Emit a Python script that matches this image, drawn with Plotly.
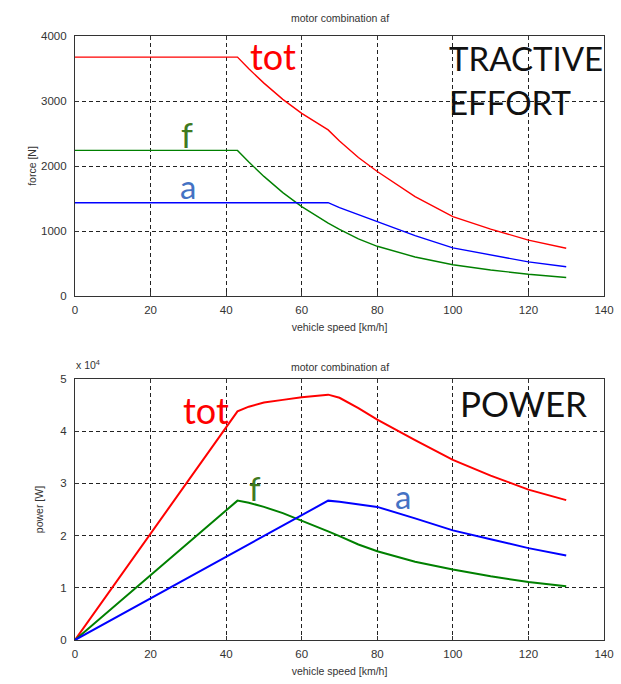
import plotly.graph_objects as go

# ---------------- data ----------------
speed = [0, 43, 46, 50, 55, 60, 67, 70, 75, 80, 90, 100, 110, 120, 130]

force_tot = [3675, 3675, 3495, 3275, 3025, 2810, 2555, 2385, 2130, 1915, 1530, 1220, 1030, 860, 735]
force_f = [2240, 2240, 2060, 1840, 1590, 1375, 1120, 1025, 880, 765, 600, 480, 400, 335, 285]
force_a = [1435, 1435, 1435, 1435, 1435, 1435, 1435, 1360, 1250, 1150, 930, 740, 630, 525, 450]

power_tot = [0, 43800, 44700, 45500, 46000, 46500, 47000, 46400, 44400, 42200, 38300, 34500, 31500, 28800, 26800]
power_f = [0, 26700, 26300, 25500, 24300, 22900, 20800, 19900, 18300, 17000, 15000, 13500, 12200, 11100, 10300]
power_a = [0, 17100, 18300, 19900, 21900, 23900, 26700, 26500, 26000, 25500, 23300, 21000, 19300, 17600, 16200]

x_ticks = [0, 20, 40, 60, 80, 100, 120, 140]
force_ticks = [0, 1000, 2000, 3000, 4000]
power_ticks = [0, 10000, 20000, 30000, 40000, 50000]
power_tick_text = ["0", "1", "2", "3", "4", "5"]

title_text = "motor combination af"
x_title = "vehicle speed [km/h]"

# ---------------- styling ----------------
W, H = 621, 684
RED, GREEN, BLUE = "#ff0000", "#008000", "#0000ff"
TICKFONT = dict(family="Liberation Sans, Arial", size=11.5, color="#333333")
SMALLFONT = dict(family="Liberation Sans, Arial", size=10.5, color="#333333")
BIG = "Lato, Open Sans, sans-serif"

def px_x(p):
    return p / W

def px_y(p):
    return 1 - p / H

fig = go.Figure()

for ys, c in [(force_tot, RED), (force_f, GREEN), (force_a, BLUE)]:
    fig.add_trace(go.Scatter(x=speed, y=ys, mode="lines", line=dict(color=c, width=1.4),
                             xaxis="x", yaxis="y", showlegend=False, hoverinfo="skip"))

for ys, c in [(power_tot, RED), (power_f, GREEN), (power_a, BLUE)]:
    fig.add_trace(go.Scatter(x=speed, y=ys, mode="lines", line=dict(color=c, width=2),
                             xaxis="x2", yaxis="y2", showlegend=False, hoverinfo="skip"))

common_x = dict(range=[0, 140], tickvals=x_ticks, ticks="inside", ticklen=4,
                tickcolor="#333", showline=True, linecolor="#333", linewidth=1.2,
                mirror="ticks", showgrid=True, gridcolor="#222", griddash="4px,3px",
                gridwidth=1, zeroline=False, tickfont=TICKFONT, automargin=False,
                ticklabelstandoff=3,
                title=dict(text=x_title, font=SMALLFONT, standoff=8))

common_y = dict(ticks="inside", ticklen=4, tickcolor="#333", showline=True,
                linecolor="#333", linewidth=1.2, mirror="ticks", showgrid=True,
                gridcolor="#222", griddash="4px,3px", gridwidth=1, zeroline=False,
                tickfont=TICKFONT, automargin=False, ticklabelstandoff=5)

fig.update_layout(
    width=W, height=H,
    margin=dict(l=0, r=0, t=0, b=0),
    paper_bgcolor="white", plot_bgcolor="white",
    xaxis=dict(common_x, domain=[px_x(75), px_x(604)], anchor="y"),
    yaxis=dict(common_y, domain=[px_y(296), px_y(36)], anchor="x", range=[0, 4000],
               tickvals=force_ticks,
               title=dict(text="force [N]", font=SMALLFONT, standoff=2)),
    xaxis2=dict(common_x, domain=[px_x(75), px_x(604)], anchor="y2"),
    yaxis2=dict(common_y, domain=[px_y(640), px_y(379)], anchor="x2", range=[0, 50000],
                tickvals=power_ticks, ticktext=power_tick_text,
                title=dict(text="power [W]", font=SMALLFONT, standoff=14)),
)

ann = []
def add_text(text, x, y, color, size, family=BIG, xanchor="center"):
    ann.append(dict(text=text, x=px_x(x), y=px_y(y), xref="paper", yref="paper",
                    showarrow=False, font=dict(family=family, size=size, color=color),
                    xanchor=xanchor, yanchor="middle"))

# titles
add_text(title_text, 340, 18, "#333333", 10.5, family="Liberation Sans, Arial")
add_text(title_text, 340, 367, "#333333", 10.5, family="Liberation Sans, Arial")
add_text("x 10<sup>4</sup>", 74, 364, "#333333", 10.5, family="Liberation Sans, Arial", xanchor="left")

# top labels
add_text("tot", 273, 56, RED, 36)
add_text("f", 187, 134, "#3f7a1f", 34)
add_text("a", 188, 186, "#4472c4", 33)
add_text("TRACTIVE", 526, 58, "#111111", 33)
add_text("EFFORT", 510, 102, "#111111", 33)

# bottom labels
add_text("tot", 206, 410, RED, 36)
add_text("f", 255, 488, "#3f7a1f", 33)
add_text("a", 403, 496, "#4472c4", 33)
add_text("POWER", 523, 403, "#111111", 35)

fig.update_layout(annotations=ann)
fig.write_html("out.html")
